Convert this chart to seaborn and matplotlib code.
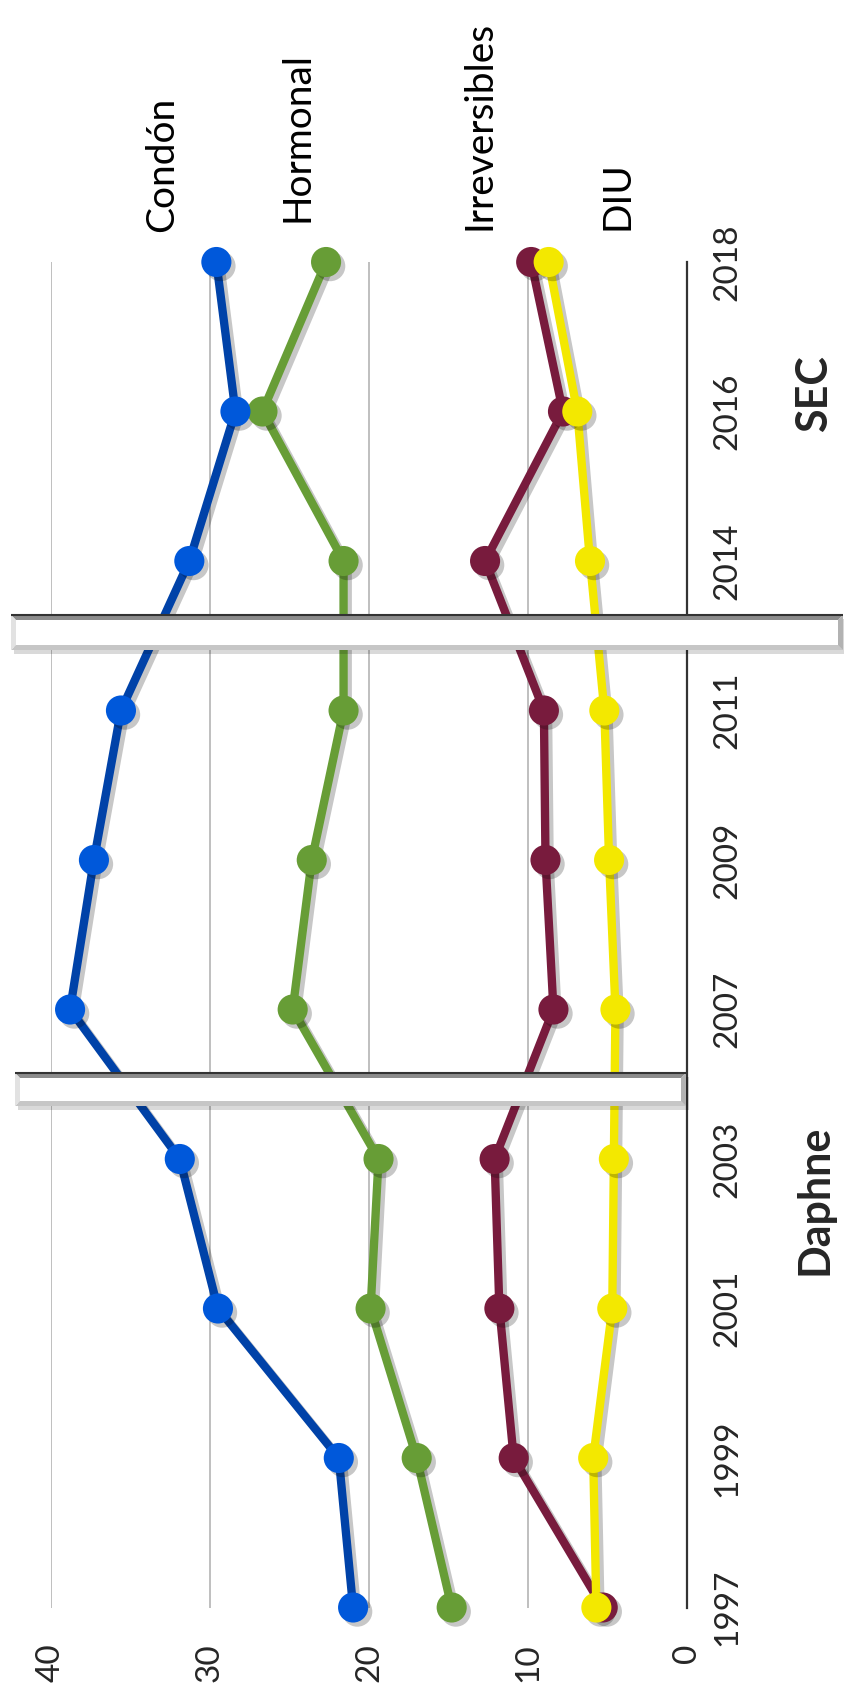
import pandas as pd
import matplotlib
matplotlib.use("Agg")
import matplotlib.pyplot as plt
import matplotlib.patheffects as pe
from matplotlib.patches import Polygon
import seaborn as sns

# Datos
anios = ["1997", "1999", "2001", "2003", "2007", "2009", "2011", "2014", "2016", "2018"]
condon = [21.0, 21.9, 29.5, 31.9, 38.8, 37.3, 35.6, 31.3, 28.4, 29.6]
hormonal = [14.8, 17.0, 19.9, 19.4, 24.8, 23.6, 21.6, 21.6, 26.7, 22.7]
irreversibles = [5.3, 10.9, 11.8, 12.1, 8.4, 8.9, 9.0, 12.7, 7.8, 9.8]
diu = [5.7, 5.9, 4.7, 4.6, 4.5, 4.9, 5.2, 6.1, 6.9, 8.7]
series = ["Condón", "Hormonal", "Irreversibles", "DIU"]
valores_ticks = [0, 10, 20, 30, 40]

color_linea = {"Condón": "#0042A8", "Hormonal": "#679D36",
               "Irreversibles": "#781B3D", "DIU": "#F3E800"}
color_marca = {"Condón": "#0058DA", "Hormonal": "#679D36",
               "Irreversibles": "#781B3D", "DIU": "#F3E800"}

filas = []
for nombre, vals in zip(series, [condon, hormonal, irreversibles, diu]):
    for i, v in enumerate(vals):
        filas.append({"serie": nombre, "pos": i, "valor": v})
df = pd.DataFrame(filas)

sns.set_style("white")
plt.rcParams["font.family"] = ["Lato", "DejaVu Sans"]

W, H = 844, 1695
fig = plt.figure(figsize=(W / 100, H / 100), dpi=100)


def fx(x):
    return x / W


def fy(y):
    return 1 - y / H


ax = fig.add_axes([fx(51), fy(1607.5), fx(687) - fx(51), fy(262) - fy(1607.5)])

# Gráfico girado: valores en horizontal (invertido), años en vertical
sns.lineplot(data=df, x="valor", y="pos", hue="serie", hue_order=series,
             palette=color_linea, orient="y", sort=False, lw=6,
             legend=False, ax=ax, clip_on=False, zorder=3)
for ln in ax.lines:
    ln.set_path_effects([pe.SimpleLineShadow(offset=(3, -3), shadow_color="k", alpha=0.22),
                         pe.Normal()])

orden = ["Hormonal", "Condón", "Irreversibles", "DIU"]
df_m = pd.concat([df[df["serie"] == s] for s in orden])
sns.scatterplot(data=df_m, x="valor", y="pos", hue="serie", hue_order=series,
                palette=color_marca, s=470, edgecolor="none", legend=False,
                ax=ax, clip_on=False, zorder=4)
ax.collections[-1].set_path_effects([pe.SimplePatchShadow(offset=(3, -3), shadow_rgbFace="black",
                                                          alpha=0.22),
                                     pe.Normal()])

ax.set_xlim(40, 0)
ax.set_ylim(0, len(anios) - 1)
ax.set_xticks(valores_ticks)
ax.set_xticklabels([str(v) for v in valores_ticks], rotation=90, fontsize=24)
ax.set_yticks(range(len(anios)))
ax.yaxis.tick_right()
ax.set_yticklabels(anios, rotation=90, va="center", fontsize=24)
ax.tick_params(axis="x", length=0, pad=26)
ax.tick_params(axis="y", length=0, pad=18)
ax.set_xlabel("")
ax.set_ylabel("")
ax.grid(False)
for v in valores_ticks[1:]:
    ax.axvline(v, color="#B4B4B4", lw=1.2, zorder=1)
for s in ["left", "top", "bottom"]:
    ax.spines[s].set_visible(False)
ax.spines["right"].set_color("#333333")
ax.spines["right"].set_linewidth(1.6)

# Etiquetas de series
etiquetas = [("Condón", 173, 232), ("Hormonal", 308, 222),
             ("Irreversibles", 491, 230), ("DIU", 628, 230)]
for txt, x, y in etiquetas:
    fig.text(fx(x), fy(y), txt, rotation=90, rotation_mode="anchor",
             ha="left", va="baseline", fontsize=28, color="black")

fig.text(fx(827), fy(1200), "Daphne", rotation=90, rotation_mode="anchor",
         ha="center", va="baseline", fontsize=31, fontweight="bold")
fig.text(fx(827), fy(394), "SEC", rotation=90, rotation_mode="anchor",
         ha="center", va="baseline", fontsize=31, fontweight="bold")


# Barras de corte (biseladas)
def barra(x0, y0, x1, y1, b=5):
    def p(pts):
        return [(fx(a), fy(c)) for a, c in pts]
    fig.add_artist(Polygon(p([(x0 + 3, y0 + 4), (x1 + 3, y0 + 4), (x1 + 3, y1 + 4), (x0 + 3, y1 + 4)]),
                           closed=True, fc="#000000", ec="none", alpha=0.15, zorder=5))
    fig.add_artist(Polygon(p([(x0, y0), (x1, y0), (x1 - b, y0 + b), (x0 + b, y0 + b)]),
                           closed=True, fc="#8C8C8C", ec="none", zorder=6))
    fig.add_artist(Polygon(p([(x0, y1), (x1, y1), (x1 - b, y1 - b), (x0 + b, y1 - b)]),
                           closed=True, fc="#C6C6C6", ec="none", zorder=6))
    fig.add_artist(Polygon(p([(x0, y0), (x0 + b, y0 + b), (x0 + b, y1 - b), (x0, y1)]),
                           closed=True, fc="#E2E2E2", ec="none", zorder=6))
    fig.add_artist(Polygon(p([(x1, y0), (x1 - b, y0 + b), (x1 - b, y1 - b), (x1, y1)]),
                           closed=True, fc="#B2B2B2", ec="none", zorder=6))
    fig.add_artist(Polygon(p([(x0 + b, y0 + b), (x1 - b, y0 + b), (x1 - b, y1 - b), (x0 + b, y1 - b)]),
                           closed=True, fc="#FFFFFF", ec="none", zorder=6))
    fig.add_artist(Polygon(p([(x0, y0), (x1, y0)]), closed=False, fill=False,
                           ec="#333333", lw=1.5, zorder=7))


barra(15, 1073, 686, 1106)
barra(11, 615, 843, 650)

fig.savefig("out.png", dpi=100)
